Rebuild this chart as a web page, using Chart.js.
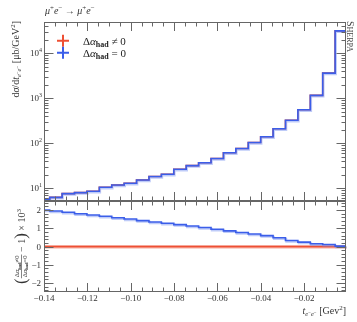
<!DOCTYPE html>
<html><head><meta charset="utf-8">
<script src="https://cdn.jsdelivr.net/npm/chart.js@4/dist/chart.umd.min.js"></script>
<style>
html,body{margin:0;padding:0;background:#fff;}
#wrap{position:relative;width:357px;height:322px;}
canvas{position:absolute;left:0;top:0;}
</style></head><body>
<div id="wrap"><canvas id="main" width="357" height="322"></canvas><canvas id="ratio" width="357" height="322"></canvas></div>
<script>
// ---- data ----
const binEdges = [-0.14310,-0.13738,-0.13165,-0.12593,-0.12020,-0.11448,-0.10876,-0.10303,-0.09731,-0.09158,
  -0.08586,-0.08014,-0.07441,-0.06869,-0.06296,-0.05724,-0.05152,-0.04579,-0.04007,-0.03434,
  -0.02862,-0.02290,-0.01717,-0.01145,-0.00572,0.0];
// dσ/dt for Δα_had ≠ 0 (red) and Δα_had = 0 (blue), μb/GeV²
const sigmaNonZero = [5.7,6.25,7.6,8.0,8.6,10.5,11.8,12.9,15.3,18.3,20.5,26.4,31.8,37.0,45.9,61.5,76.6,104,140,210,326,558,1167,3650,31800];
const sigmaZero    = [5.7,6.25,7.6,8.0,8.6,10.5,11.8,12.9,15.3,18.3,20.5,26.4,31.8,37.0,45.9,61.5,76.6,104,140,210,326,558,1167,3650,31800];
// ratio panel ( ... − 1) × 10³
const ratioNonZero = [0,0,0,0,0,0,0,0,0,0,0,0,0,0,0,0,0,0,0,0,0,0,0,0,0];
const ratioZero    = [2.00,1.95,1.88,1.80,1.73,1.66,1.58,1.51,1.42,1.35,1.28,1.20,1.13,1.04,0.95,0.86,0.77,0.69,0.60,0.48,0.33,0.24,0.15,0.11,0.02];
const xTickLabels = [-0.14,-0.12,-0.10,-0.08,-0.06,-0.04,-0.02];
const mainYExponents = [1,2,3,4];
const ratioYTicks = [-2,-1,0,1,2];
const legendLabels = ['Δα_had ≠ 0','Δα_had = 0'];

// ---- style ----
const SERIF = '"Liberation Serif","DejaVu Serif",serif';
const F = (size, style) => (style ? style + ' ' : '') + size + 'px ' + SERIF;
const BLUE = '#3b5ee9', BLUE_HALO = 'rgba(110,140,240,0.45)';
const RED = '#ee5034', RED_HALO = 'rgba(240,130,110,0.45)';
const AXIS = '#666', TXT = '#333';

function stepPoints(vals){ return binEdges.map((e,i)=>({x:e, y: vals[Math.min(i, vals.length-1)]})); }

function richWidth(ctx, segs){ let w=0; for(const s of segs){ ctx.font=s.f; w += ctx.measureText(s.t).width; } return w; }
function drawRich(ctx, x, y, segs, align, color){
  const w = richWidth(ctx, segs);
  let cx = align==='right' ? x-w : align==='center' ? x-w/2 : x;
  ctx.textAlign='left'; ctx.textBaseline='alphabetic';
  for(const s of segs){ ctx.font=s.f; ctx.fillStyle=s.c||color||TXT; ctx.fillText(s.t, cx, y+(s.dy||0)); cx += ctx.measureText(s.t).width; }
  return w;
}

const haloPlugin = {
  id:'halo',
  beforeDatasetDraw(chart, args){ if(chart.data.datasets[args.index].halo){ chart.ctx.save(); chart.ctx.translate(0.8,1.2); } },
  afterDatasetDraw(chart, args){ if(chart.data.datasets[args.index].halo){ chart.ctx.restore(); } }
};

function frameAndXTicks(ctx, a, x, topLen, botLen){
  ctx.strokeStyle=AXIS; ctx.lineWidth=1;
  ctx.strokeRect(a.left+0.5, a.top+0.5, a.right-a.left-1, a.bottom-a.top-1);
  for(let i=0;i<=28;i++){
    const v=-0.14+i*0.005; const px=Math.round(x.getPixelForValue(v))+0.5;
    if(px>a.right-1) continue;
    const major = i%4===0; const len = major?9:4.5;
    ctx.beginPath(); ctx.moveTo(px,a.top); ctx.lineTo(px,a.top+len);
    ctx.moveTo(px,a.bottom); ctx.lineTo(px,a.bottom-len); ctx.stroke();
  }
}

const mainDecor = {
  id:'mainDecor',
  afterDraw(chart){
    const {ctx, chartArea:a, scales:{x,y}} = chart;
    ctx.save();
    frameAndXTicks(ctx, a, x);
    // log y ticks
    for(let e=0;e<=4;e++){
      for(let m=1;m<=9;m++){
        const v=m*Math.pow(10,e); if(v<y.min||v>y.max) continue;
        const py=Math.round(y.getPixelForValue(v))+0.5; const len=m===1?9.5:4.5;
        ctx.beginPath(); ctx.moveTo(a.left,py); ctx.lineTo(a.left+len,py);
        ctx.moveTo(a.right,py); ctx.lineTo(a.right-len,py); ctx.stroke();
      }
    }
    for(const e of mainYExponents){
      const py=y.getPixelForValue(Math.pow(10,e));
      drawRich(ctx, 42, py+3, [{t:'10',f:F(9)},{t:String(e),f:F(6),dy:-4}], 'right');
    }
    // title
    drawRich(ctx, 45, 14, [
      {t:'μ',f:F(10,'italic')},{t:'+',f:F(7),dy:-4},{t:'e',f:F(10,'italic')},{t:'−',f:F(7),dy:-4},
      {t:' → ',f:F(10)},
      {t:'μ',f:F(10,'italic')},{t:'+',f:F(7),dy:-4},{t:'e',f:F(10,'italic')},{t:'−',f:F(7),dy:-4}
    ], 'left');
    // legend
    const legColors=[RED,BLUE]; const legY=[40.7,52.7];
    for(let i=0;i<2;i++){
      ctx.strokeStyle=legColors[i]; ctx.lineWidth=2;
      ctx.beginPath(); ctx.moveTo(57,legY[i]); ctx.lineTo(69,legY[i]); ctx.moveTo(63,legY[i]-6); ctx.lineTo(63,legY[i]+6); ctx.stroke();
      const parts = legendLabels[i].split('_had');
      drawRich(ctx, 83, legY[i]+4, [
        {t:'Δ',f:F(11)},{t:'α',f:F(11,'italic')},{t:'had',f:F(8,'bold'),dy:2},{t:parts[1],f:F(11)}
      ], 'left', '#222');
    }
    // y label (rotated)
    ctx.save(); ctx.translate(19,21); ctx.rotate(-Math.PI/2);
    drawRich(ctx, 0, 0, [
      {t:'d',f:F(10)},{t:'σ',f:F(10,'italic')},{t:'/d',f:F(10)},{t:'t',f:F(10,'italic')},
      {t:'e',f:F(6.5,'italic'),dy:2},{t:'−',f:F(5),dy:-0.5},{t:'e',f:F(6.5,'italic'),dy:2},{t:'−',f:F(5),dy:-0.5},
      {t:' [μb/GeV',f:F(10)},{t:'2',f:F(7),dy:-4},{t:']',f:F(10)}
    ], 'right');
    ctx.restore();
    // SHERPA
    ctx.save(); ctx.translate(347,21); ctx.rotate(Math.PI/2);
    drawRich(ctx, 0, 0, [{t:'S',f:F(10)},{t:'HERPA',f:F(8)}], 'left', '#444');
    ctx.restore();
    ctx.restore();
  }
};

const ratioDecor = {
  id:'ratioDecor',
  afterDraw(chart){
    const {ctx, chartArea:a, scales:{x,y}} = chart;
    ctx.save();
    frameAndXTicks(ctx, a, x);
    ctx.strokeStyle=AXIS; ctx.lineWidth=1;
    for(let i=-12;i<=12;i++){
      const v=i*0.2; const py=Math.round(y.getPixelForValue(v))+0.5;
      const len = i%5===0?9.5:4.5;
      ctx.beginPath(); ctx.moveTo(a.left,py); ctx.lineTo(a.left+len,py);
      ctx.moveTo(a.right,py); ctx.lineTo(a.right-len,py); ctx.stroke();
    }
    for(const v of ratioYTicks){
      const py=y.getPixelForValue(v);
      drawRich(ctx, 41, py+3, [{t:(v<0?'−':'')+Math.abs(v),f:F(9)}], 'right');
    }
    for(const v of xTickLabels){
      const px=x.getPixelForValue(v);
      drawRich(ctx, px, 301, [{t:'−'+Math.abs(v).toFixed(2),f:F(9)}], 'center');
    }
    // x axis title
    drawRich(ctx, 346, 314, [
      {t:'t',f:F(10,'italic')},{t:'e',f:F(6.5,'italic'),dy:2},{t:'−',f:F(5),dy:-0.5},{t:'e',f:F(6.5,'italic'),dy:2},{t:'−',f:F(5),dy:-0.5},
      {t:' [Gev',f:F(10)},{t:'2',f:F(7),dy:-4},{t:']',f:F(10)}
    ], 'right');
    // ratio y label
    ctx.save(); ctx.translate(25, (a.top+a.bottom)/2); ctx.rotate(-Math.PI/2);
    const axisY=-3.5;
    const num=[{t:'Δ',f:F(6.5)},{t:'α',f:F(6.5,'italic')},{t:'had',f:F(4.5,'bold'),dy:1.5},{t:'≠0',f:F(6.5)}];
    const den=[{t:'Δ',f:F(6.5)},{t:'α',f:F(6.5,'italic')},{t:'had',f:F(4.5,'bold'),dy:1.5},{t:'=0',f:F(6.5)}];
    ctx.font=F(17); const pw=ctx.measureText('(').width;
    const fw=Math.max(richWidth(ctx,num),richWidth(ctx,den))+2;
    const m1=[{t:' − 1',f:F(10)}];
    const m2=[{t:' × 10',f:F(10)},{t:'3',f:F(7),dy:-4}];
    const W=pw+fw+richWidth(ctx,m1)+pw+richWidth(ctx,m2);
    let cx=-W/2;
    ctx.fillStyle=TXT; ctx.font=F(17); ctx.textAlign='left'; ctx.fillText('(',cx,1); cx+=pw;
    drawRich(ctx, cx+fw/2, axisY-2.2, num, 'center');
    drawRich(ctx, cx+fw/2, axisY+5.2, den, 'center');
    ctx.strokeStyle=TXT; ctx.lineWidth=0.6; ctx.beginPath(); ctx.moveTo(cx,axisY); ctx.lineTo(cx+fw,axisY); ctx.stroke();
    cx+=fw;
    cx+=drawRich(ctx, cx, 0, m1, 'left');
    ctx.fillStyle=TXT; ctx.font=F(17); ctx.fillText(')',cx,1); cx+=pw;
    drawRich(ctx, cx, 0, m2, 'left');
    ctx.restore();
    ctx.restore();
  }
};

function lineDs(label, vals, color, width, order, halo){
  return {label, data:stepPoints(vals), borderColor:color, borderWidth:width, stepped:'before',
    pointRadius:0, fill:false, order, halo:!!halo, clip:0};
}
const common = {responsive:false, animation:false, devicePixelRatio:1, events:[],
  plugins:{legend:{display:false}, tooltip:{enabled:false}, title:{display:false}}};

new Chart(document.getElementById('main'), {
  type:'line',
  data:{datasets:[
    lineDs(legendLabels[1], sigmaZero, BLUE, 1.6, 0),
    lineDs('halo', sigmaZero, BLUE_HALO, 2, 1, true),
    lineDs(legendLabels[0], sigmaNonZero, RED, 1.6, 2)
  ]},
  options:Object.assign({}, common, {
    layout:{padding:{left:44,right:11,top:22,bottom:121}},
    scales:{x:{type:'linear',min:-0.14,max:-0.0007,display:false},
            y:{type:'logarithmic',min:5.2,max:50000,display:false}}
  }),
  plugins:[haloPlugin, mainDecor]
});

new Chart(document.getElementById('ratio'), {
  type:'line',
  data:{datasets:[
    lineDs(legendLabels[1], ratioZero, BLUE, 1.6, 0),
    lineDs('halo', ratioZero, BLUE_HALO, 2, 1, true),
    lineDs(legendLabels[0], ratioNonZero, RED, 2, 2),
    lineDs('halo', ratioNonZero, RED_HALO, 2, 3, true)
  ]},
  options:Object.assign({}, common, {
    layout:{padding:{left:44,right:11,top:201,bottom:30}},
    scales:{x:{type:'linear',min:-0.14,max:-0.0007,display:false},
            y:{type:'linear',min:-2.5,max:2.5,display:false}}
  }),
  plugins:[haloPlugin, ratioDecor]
});
</script>
</body></html>
